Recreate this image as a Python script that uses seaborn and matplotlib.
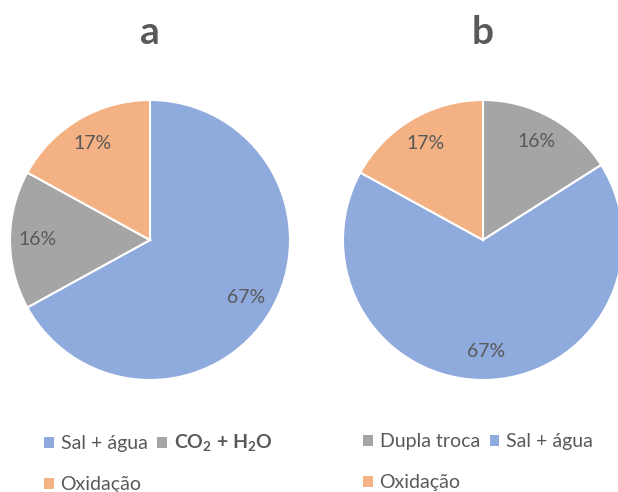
import matplotlib
matplotlib.use("Agg")
import matplotlib.pyplot as plt
from matplotlib.patches import Patch
import seaborn as sns

sns.set_theme(style="white")
plt.rcParams["font.family"] = ["Lato", "DejaVu Sans"]
plt.rcParams["mathtext.fontset"] = "custom"
plt.rcParams["mathtext.rm"] = "Lato:bold"
plt.rcParams["mathtext.bf"] = "Lato:bold"

TEXT = "#595959"
BLUE, GRAY, ORANGE = "#8FAADC", "#A5A5A5", "#F4B183"

# Chart a
labels_a = ["Sal + água", "CO$_2$ + H$_2$O", "Oxidação"]
values_a = [67, 16, 17]
colors_a = [BLUE, GRAY, ORANGE]

# Chart b
labels_b = ["Dupla troca", "Sal + água", "Oxidação"]
values_b = [16, 67, 17]
colors_b = [GRAY, BLUE, ORANGE]

W, H = 618, 492
fig = plt.figure(figsize=(W / 100, H / 100), dpi=100)


def draw(left_px, title, labels, values, colors, legend_x):
    ax = fig.add_axes([left_px / W, (H - 380) / H, 280 / W, 280 / H])
    wedges, texts, autotexts = ax.pie(
        values, colors=colors, startangle=90, counterclock=False,
        autopct="%1.0f%%", pctdistance=0.8,
        wedgeprops=dict(edgecolor="white", linewidth=1.5),
        textprops=dict(color=TEXT, fontsize=14),
    )
    ax.set_aspect("equal")
    ax.set_xlim(-1, 1)
    ax.set_ylim(-1, 1)
    fig.text((left_px + 140) / W, 1 - 32 / H, title, ha="center", va="center",
             fontsize=28, fontweight="bold", color=TEXT)
    handles = [Patch(facecolor=c, edgecolor="none") for c in colors]
    # row-wise order for a two-column legend
    order = [0, 2, 1]
    leg = fig.legend([handles[i] for i in order], [labels[i] for i in order],
                     ncol=2, loc="upper left",
                     bbox_to_anchor=(legend_x / W, 1 - 433 / H),
                     frameon=False, fontsize=14, handlelength=0.5,
                     handleheight=0.5, handletextpad=0.35, columnspacing=0.5,
                     labelspacing=1.25, borderaxespad=0, borderpad=0)
    for t in leg.get_texts():
        t.set_color(TEXT)
        if "$" in t.get_text():
            t.set_fontweight("bold")


draw(10, "a", labels_a, values_a, colors_a, 44)
draw(343, "b", labels_b, values_b, colors_b, 363)

fig.savefig("out.png", dpi=100)
